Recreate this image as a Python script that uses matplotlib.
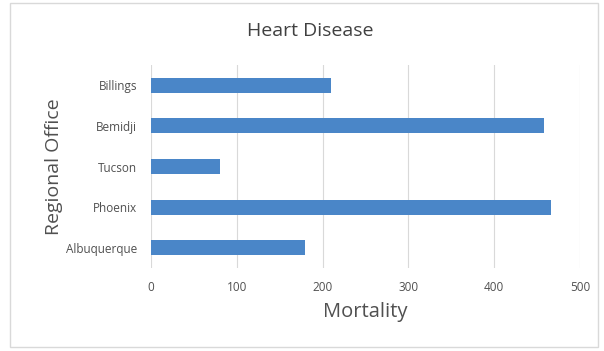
import matplotlib.pyplot as plt
from matplotlib.patches import Rectangle

offices = ['Albuquerque', 'Phoenix', 'Tucson', 'Bemidji', 'Billings']
mortality = [179, 466, 81, 458, 210]
xticks = [0, 100, 200, 300, 400, 500]

plt.rcParams['font.family'] = ['Open Sans', 'DejaVu Sans']

fig = plt.figure(figsize=(6.04, 3.51), dpi=100)
ax = fig.add_axes([0.25, 0.236, 0.71, 0.579])

ax.barh(range(len(offices)), mortality, height=0.37, color='#4a86c8', zorder=3)
ax.set_yticks(range(len(offices)))
ax.set_yticklabels(offices)
ax.set_ylim(-0.5, len(offices) - 0.5)
ax.set_xlim(0, 500)
ax.set_xticks(xticks)
ax.grid(axis='x', color='#d9d9d9', lw=0.8, zorder=0)
for s in ax.spines.values():
    s.set_visible(False)
ax.tick_params(length=0, labelsize=8.5, colors='#505050', pad=10)
ax.tick_params(axis='x', pad=9)

ax.set_xlabel('Mortality', fontsize=14.5, color='#505050', labelpad=6)
ax.set_ylabel('Regional Office', fontsize=14, color='#505050', labelpad=2)
fig.text(0.513, 0.912, 'Heart Disease', ha='center', va='center',
         fontsize=14, color='#404040')

fig.patches.append(Rectangle((0.017, 0.012), 0.973, 0.98, transform=fig.transFigure,
                             fill=False, edgecolor='#d9d9d9', lw=1))

fig.savefig('out.png', dpi=100)
